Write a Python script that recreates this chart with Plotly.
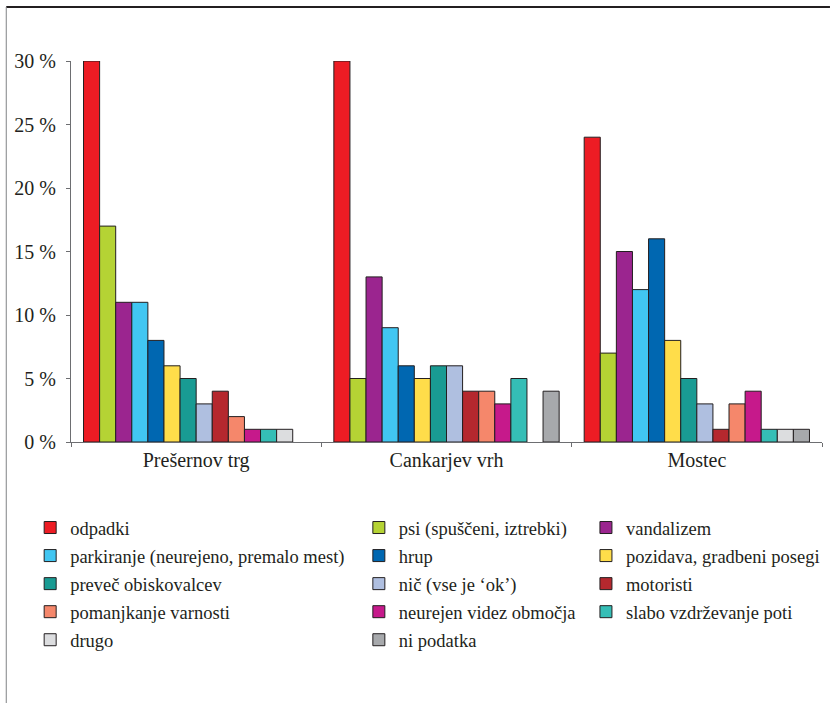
import plotly.graph_objects as go

categories = ["Prešernov trg", "Cankarjev vrh", "Mostec"]

series_names = [
    "odpadki", "psi (spuščeni, iztrebki)", "vandalizem",
    "parkiranje (neurejeno, premalo mest)", "hrup", "pozidava, gradbeni posegi",
    "preveč obiskovalcev", "nič (vse je ‘ok’)", "motoristi",
    "pomanjkanje varnosti", "neurejen videz območja", "slabo vzdrževanje poti",
    "drugo", "ni podatka",
]

odpadki = [30, 30, 24]
psi = [17, 5, 7]
vandalizem = [11, 13, 15]
parkiranje = [11, 9, 12]
hrup = [8, 6, 16]
pozidava = [6, 5, 8]
prevec = [5, 6, 5]
nic = [3, 6, 3]
motoristi = [4, 4, 1]
pomanjkanje = [2, 4, 3]
neurejen = [1, 3, 4]
slabo = [1, 5, 1]
drugo = [1, None, 1]
ni_podatka = [None, 4, 1]

values = [odpadki, psi, vandalizem, parkiranje, hrup, pozidava, prevec, nic,
          motoristi, pomanjkanje, neurejen, slabo, drugo, ni_podatka]

colors = ["#ED1C24", "#B5D334", "#9B258F", "#41C6F2", "#0067B1", "#FFDD4A",
          "#199B93", "#AFBFE0", "#B5282E", "#F5876B", "#C6198B", "#35BEB6",
          "#DCDDDF", "#A7A9AC"]

tick_vals = [0, 5, 10, 15, 20, 25, 30]
tick_text = ["0 %", "5 %", "10 %", "15 %", "20 %", "25 %", "30 %"]

FONT = "Liberation Serif, DejaVu Serif, Times New Roman, serif"
TXT = "#231F20"

fig = go.Figure()
legend_ids = ["legend", "legend2", "legend3"]
for i, (name, vals, col) in enumerate(zip(series_names, values, colors)):
    fig.add_trace(go.Bar(
        x=categories, y=vals, name=name,
        marker=dict(color=col, line=dict(color="#231F20", width=1)),
        legend=legend_ids[i % 3],
        legendgroup=f"g{i}",
    ))

W, H = 833, 703
ml, mr, mt, mb = 71, 8, 61, 261
pw = W - ml - mr
ph = H - mt - mb

def px(xp):
    return (xp - ml) / pw

def py(yp):
    return (H - mb - yp) / ph

legend_common = dict(
    font=dict(family=FONT, size=18.5, color=TXT),
    orientation="v", yanchor="top", xanchor="left",
    bgcolor="rgba(0,0,0,0)", tracegroupgap=1,
    itemclick=False,
)

fig.update_layout(
    width=W, height=H,
    margin=dict(l=ml, r=mr, t=mt, b=mb),
    paper_bgcolor="white", plot_bgcolor="white",
    barmode="group", bargap=0.1, bargroupgap=0,
    font=dict(family=FONT, size=20, color=TXT),
    showlegend=True,
    legend=dict(x=px(30), y=py(509), **legend_common),
    legend2=dict(x=px(360), y=py(509), **legend_common),
    legend3=dict(x=px(588), y=py(509), **legend_common),
    xaxis=dict(
        type="category", showline=True, linecolor="#6D6E71", linewidth=1,
        ticks="outside", tickson="boundaries", ticklen=4, tickcolor="#6D6E71",
        showgrid=False, tickfont=dict(family=FONT, size=20, color=TXT),
    ),
    yaxis=dict(
        range=[0, 30], tickmode="array", tickvals=tick_vals, ticktext=tick_text,
        showline=True, linecolor="#6D6E71", linewidth=1,
        ticks="outside", ticklen=4, tickcolor="#6D6E71",
        showgrid=False, zeroline=False, ticklabelstandoff=6,
        tickfont=dict(family=FONT, size=20, color=TXT),
    ),
    shapes=[
        dict(type="line", xref="paper", yref="paper",
             x0=px(6), x1=px(833), y0=py(7), y1=py(7),
             line=dict(color="#231F20", width=2)),
        dict(type="line", xref="paper", yref="paper",
             x0=px(6), x1=px(6), y0=py(7), y1=py(703),
             line=dict(color="#808285", width=1)),
    ],
)

fig.write_html("out.html", config={"displayModeBar": False},
               post_script="document.body.style.margin='0';")
